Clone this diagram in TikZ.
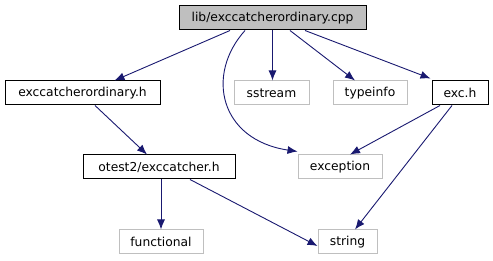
\documentclass[tikz,border=0pt]{standalone}
\usepackage{fontspec}
\setmainfont{DejaVu Sans}
\usetikzlibrary{arrows.meta}
\definecolor{edgeblue}{HTML}{191970}
\definecolor{sysgray}{HTML}{BFBFBF}
\begin{document}
\begin{tikzpicture}[x=1pt,y=-1pt,
  box/.style={draw=black,line width=1pt,minimum height=24pt,inner sep=0pt,
    font=\fontsize{12.3}{14}\selectfont},
  sysbox/.style={box,draw=sysgray},
  rootbox/.style={box,fill=sysgray},
  edge/.style={draw=edgeblue,line width=0.9pt,-{Latex[length=10pt,width=8pt]}}]
\useasboundingbox (0,0) rectangle (493,261);
% files
\node[rootbox,minimum width=187pt] (root) at (272.5,18) {lib/exccatcherordinary.cpp};
\node[box,minimum width=155pt] (ecoh) at (82.5,93) {exccatcherordinary.h};
\node[sysbox,minimum width=75pt] (sstream) at (271.5,93) {sstream};
\node[sysbox,minimum width=74pt] (typeinfo) at (370,93) {typeinfo};
\node[box,minimum width=56pt] (exch) at (460,93) {exc.h};
\node[box,minimum width=152pt] (otest) at (159,167) {otest2/exccatcher.h};
\node[sysbox,minimum width=84pt] (exception) at (340,167) {exception};
\node[sysbox,minimum width=84pt] (functional) at (161,242) {functional};
\node[sysbox,minimum width=59pt] (string) at (347.5,242) {string};
% include edges
\draw[edge] ([xshift=-42.5pt]root.south) -- ([xshift=32pt]ecoh.north);
\draw[edge] ([xshift=-27.5pt]root.south) .. controls (205,75) and (220,140) .. ([yshift=3pt]exception.north west);
\draw[edge] (root.south) -- (root.south |- sstream.north);
\draw[edge] ([xshift=17.5pt]root.south) -- ([xshift=-15pt]typeinfo.north);
\draw[edge] ([xshift=32.5pt]root.south) -- ([xshift=-1pt,yshift=2pt]exch.north west);
\draw[edge] ([xshift=12.5pt]ecoh.south) -- ([xshift=-12pt]otest.north);
\draw[edge] ([xshift=2pt]otest.south) -- (functional.north);
\draw[edge] ([xshift=31pt]otest.south) -- ([yshift=-4pt]string.west);
\draw[edge] ([xshift=-20pt]exch.south) -- ([xshift=10pt]exception.north);
\draw[edge] ([xshift=-8pt]exch.south) -- ([xshift=7.5pt]string.north);
\end{tikzpicture}
\end{document}
